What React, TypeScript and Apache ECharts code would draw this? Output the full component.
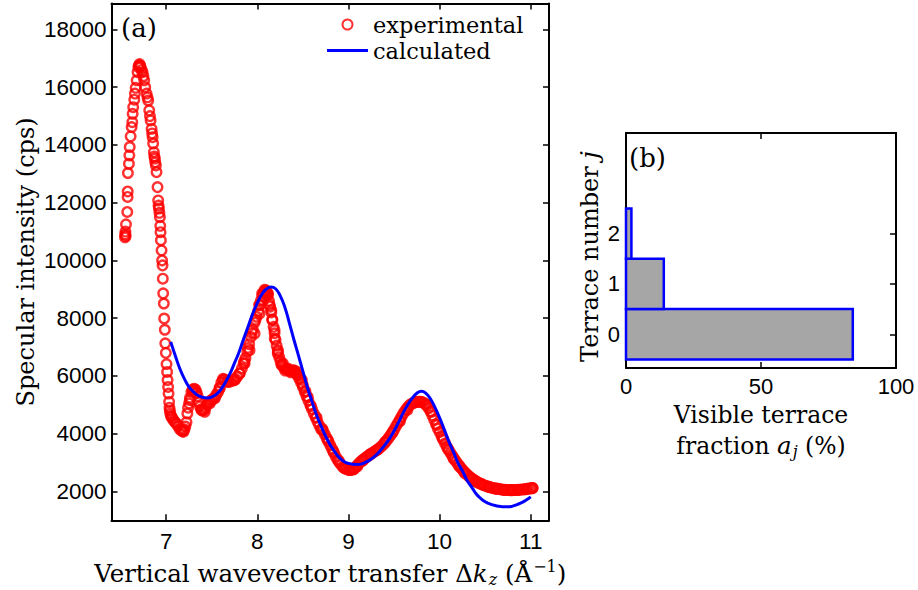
import React, { useEffect, useRef } from "react";
import * as echarts from "echarts";

// ---------- data ----------
const expX = [
  6.548, 6.55, 6.553, 6.556, 6.559, 6.573, 6.577, 6.578, 6.58, 6.591, 6.596, 6.6, 6.61, 6.621, 6.628, 6.632,
  6.638, 6.65, 6.657, 6.665, 6.676, 6.686, 6.695, 6.701, 6.708, 6.715, 6.719, 6.73, 6.741, 6.75, 6.759, 6.77,
  6.785, 6.795, 6.803, 6.814, 6.822, 6.829, 6.84, 6.846, 6.851, 6.857, 6.865, 6.87, 6.876, 6.88, 6.887, 6.894,
  6.905, 6.912, 6.916, 6.92, 6.926, 6.931, 6.935, 6.938, 6.942, 6.949, 6.955, 6.96, 6.963, 6.967, 6.974, 6.978,
  6.985, 6.99, 6.996, 7.004, 7.01, 7.015, 7.021, 7.026, 7.032, 7.036, 7.04, 7.045, 7.052, 7.059, 7.07, 7.085,
  7.1, 7.113, 7.13, 7.15, 7.168, 7.18, 7.19, 7.2, 7.21, 7.223, 7.232, 7.24, 7.251, 7.262, 7.277, 7.29,
  7.305, 7.32, 7.332, 7.345, 7.358, 7.37, 7.385, 7.4, 7.415, 7.43, 7.445, 7.46, 7.478, 7.495, 7.51, 7.532,
  7.55, 7.57, 7.587, 7.605, 7.623, 7.64, 7.66, 7.678, 7.7, 7.72, 7.74, 7.76, 7.78, 7.806, 7.83, 7.85,
  7.87, 7.89, 7.91, 7.93, 7.95, 7.97, 7.99, 8.01, 8.025, 8.04, 8.055, 8.07, 8.085, 8.095, 8.105, 8.116,
  8.128, 8.14, 8.153, 8.165, 8.178, 8.189, 8.2, 8.212, 8.225, 8.24, 8.255, 8.27, 8.285, 8.3, 8.32, 8.34,
  8.36, 8.38, 8.4, 8.42, 8.44, 8.46, 8.48, 8.5, 8.52, 8.54, 8.56, 8.58, 8.6, 8.62, 8.64, 8.66,
  8.68, 8.7, 8.72, 8.74, 8.76, 8.78, 8.8, 8.82, 8.84, 8.86, 8.88, 8.9, 8.92, 8.94, 8.96, 8.98,
  9.0, 9.02, 9.04, 9.06, 9.08, 9.1, 9.12, 9.14, 9.16, 9.18, 9.2, 9.22, 9.24, 9.26, 9.28, 9.3,
  9.32, 9.34, 9.36, 9.38, 9.4, 9.42, 9.44, 9.46, 9.48, 9.5, 9.52, 9.54, 9.56, 9.58, 9.6, 9.62,
  9.64, 9.66, 9.68, 9.7, 9.72, 9.74, 9.76, 9.78, 9.8, 9.82, 9.84, 9.86, 9.88, 9.9, 9.92, 9.94,
  9.96, 9.98, 10.0, 10.02, 10.04, 10.06, 10.08, 10.1, 10.12, 10.14, 10.16, 10.18, 10.2, 10.22, 10.24, 10.26,
  10.28, 10.3, 10.32, 10.34, 10.36, 10.38, 10.4, 10.42, 10.44, 10.46, 10.48, 10.5, 10.52, 10.54, 10.56, 10.58,
  10.6, 10.62, 10.64, 10.66, 10.68, 10.7, 10.72, 10.74, 10.76, 10.78, 10.8, 10.82, 10.84, 10.86, 10.88, 10.9,
  10.92, 10.94, 10.96, 10.98, 11.0, 11.01, 11.02,
  // second reading pass of the dense band
  7.186, 7.259, 7.295, 7.332, 7.387, 7.423, 7.478, 7.532, 7.587, 7.623, 7.678, 7.751, 7.806, 7.86, 7.915, 7.97,
  8.025, 8.061, 8.09, 8.116, 8.153, 8.189, 8.225, 8.28, 8.334, 8.389, 8.444, 8.499, 8.553,
  7.858, 7.898, 7.939, 7.98, 8.02, 8.053, 8.081, 8.11, 8.134, 8.163, 8.191, 8.224, 8.264, 8.305, 8.366, 8.407,
  8.447, 8.488, 8.528, 8.589, 8.65, 8.711, 8.772, 8.833, 8.894, 8.955, 9.016, 9.057, 9.098, 9.159, 9.24, 9.321,
  9.402, 9.484, 9.565, 9.646, 9.728, 9.789, 9.85, 9.911, 9.972, 10.033, 10.093, 10.154, 10.215, 10.276, 10.337, 10.398,
  10.459, 10.54, 10.622, 10.703, 10.785, 10.866, 10.947, 11.02,
];
const expY = [
  10800, 10900, 11000, 10850, 11250, 11680, 12200, 12390, 13030, 13350, 13640, 13930, 14300, 14620, 14790, 15080,
  15310, 15570, 15780, 15980, 16240, 16520, 16700, 16760, 16800, 16740, 16700, 16600, 16520, 16380, 16240, 16000,
  15780, 15650, 15540, 15200, 15000, 14850, 14560, 14400, 14270, 14050, 13750, 13600, 13530, 13400, 13290, 13060,
  12540, 12080, 11900, 11800, 11650, 11500, 11200, 10980, 10700, 10350, 10000, 9830, 9370, 8860, 8510, 7990,
  7600, 7130, 6800, 6410, 6140, 5860, 5620, 5390, 5100, 4900, 4800, 4700, 4620, 4580, 4520, 4450,
  4390, 4350, 4260, 4150, 4120, 4080, 4070, 4150, 4250, 4400, 4700, 4900, 5050, 5250, 5450, 5520,
  5560, 5530, 5450, 5300, 5100, 4950, 4850, 4800, 4820, 4900, 5000, 5060, 5100, 5160, 5200, 5250,
  5350, 5450, 5600, 5780, 5900, 5880, 5820, 5800, 5800, 5830, 5860, 5900, 5980, 6090, 6260, 6430,
  6620, 6850, 7100, 7350, 7600, 7850, 8050, 8250, 8450, 8620, 8780, 8880, 8950, 8960, 8900, 8800,
  8600, 8400, 8200, 7950, 7700, 7480, 7250, 7050, 6850, 6650, 6500, 6400, 6320, 6270, 6230, 6200,
  6180, 6170, 6150, 6100, 6030, 5900, 5760, 5620, 5450, 5300, 5150, 5000, 4850, 4700, 4560, 4420,
  4280, 4150, 4110, 3980, 3850, 3730, 3600, 3470, 3340, 3210, 3100, 3000, 2920, 2850, 2800, 2770,
  2750, 2750, 2760, 2780, 2850, 2920, 2990, 3050, 3100, 3150, 3200, 3240, 3290, 3330, 3370, 3410,
  3450, 3500, 3560, 3620, 3690, 3770, 3850, 3940, 4040, 4140, 4250, 4360, 4470, 4580, 4690, 4790,
  4880, 4950, 5010, 5050, 5080, 5100, 5110, 5110, 5100, 5080, 5040, 4970, 4880, 4770, 4630, 4480,
  4330, 4180, 4060, 3920, 3790, 3660, 3540, 3440, 3330, 3230, 3130, 3040, 2950, 2870, 2790, 2720,
  2650, 2590, 2530, 2480, 2430, 2390, 2350, 2310, 2280, 2250, 2220, 2200, 2180, 2160, 2140, 2120,
  2110, 2100, 2090, 2080, 2070, 2060, 2060, 2050, 2050, 2050, 2050, 2050, 2050, 2060, 2060, 2070,
  2070, 2080, 2090, 2100, 2110, 2110, 2120,
  // second reading pass of the dense band
  4124, 5163, 5509, 5394, 4817, 4758, 5048, 5221, 5567, 5855, 5796, 5855, 6086, 6433, 6893, 7471,
  8163, 8623, 8910, 8855, 8277, 7585, 6893, 6433, 6260, 6201, 6028, 5682, 5277,
  6514, 6969, 7490, 7945, 8465, 8855, 8985, 8855, 8465, 7945, 7295, 6774, 6384, 6189, 6124, 6189,
  6124, 5863, 5473, 4953, 4563, 4172, 3782, 3392, 3067, 2807, 2741, 2767, 2872, 3067, 3288, 3457,
  3717, 4042, 4433, 4823, 5083, 5109, 5018, 4758, 4302, 3847, 3457, 3132, 2872, 2637, 2481, 2351,
  2260, 2156, 2091, 2052, 2039, 2052, 2078, 2117,
];
const calcX = [
  7.05, 7.1, 7.15, 7.2, 7.25, 7.3, 7.35, 7.4, 7.45, 7.5, 7.55, 7.6, 7.65, 7.7, 7.75, 7.8,
  7.85, 7.9, 7.95, 8.0, 8.05, 8.1, 8.15, 8.2, 8.25, 8.3, 8.35, 8.4, 8.45, 8.5, 8.55, 8.6,
  8.65, 8.7, 8.75, 8.8, 8.85, 8.9, 8.95, 9.0, 9.05, 9.1, 9.15, 9.2, 9.25, 9.3, 9.35, 9.4,
  9.45, 9.5, 9.55, 9.6, 9.65, 9.7, 9.75, 9.8, 9.85, 9.9, 9.95, 10.0, 10.05, 10.1, 10.15, 10.2,
  10.25, 10.3, 10.35, 10.4, 10.45, 10.5, 10.55, 10.6, 10.65, 10.7, 10.75, 10.8, 10.85, 10.9, 10.95, 11.0,
];
const calcY = [
  7180, 6700, 6250, 5900, 5620, 5450, 5320, 5260, 5240, 5270, 5360, 5530, 5780, 6080, 6450, 6830,
  7290, 7720, 8160, 8530, 8830, 9010, 9080, 9020, 8780, 8400, 7850, 7270, 6720, 6160, 5600, 5110,
  4640, 4260, 3910, 3610, 3370, 3170, 3040, 2970, 2940, 2935, 2960, 3030, 3120, 3250, 3420, 3610,
  3830, 4090, 4400, 4720, 5000, 5230, 5400, 5470, 5400, 5200, 4900, 4550, 4150, 3740, 3380, 3000,
  2710, 2390, 2160, 1920, 1760, 1640, 1570, 1520, 1485, 1470, 1465, 1490, 1545, 1610, 1700, 1810,
];
const xTicksA = [7, 8, 9, 10, 11];
const yTicksA = [2000, 4000, 6000, 8000, 10000, 12000, 14000, 16000, 18000];
const terraceJ = [0, 1, 2];
const terraceFraction = [84, 14, 2];
const xTicksB = [0, 50, 100];
const yTicksB = [0, 1, 2];

const SERIF = "DejaVu Serif";
const SANS = "Liberation Sans";

function axisCommon(ticks: number[], showLabel: boolean, labelMargin: number, fs: number) {
  return {
    type: "value" as const,
    axisLine: { show: true, onZero: false, lineStyle: { color: "#000", width: 2 } },
    axisTick: { show: true, inside: true, length: 6, customValues: ticks, lineStyle: { color: "#000", width: 1.5 } },
    axisLabel: {
      show: showLabel,
      customValues: ticks,
      formatter: (v: number) => String(v),
      fontFamily: SANS,
      fontSize: fs,
      color: "#000",
      margin: labelMargin,
    },
    splitLine: { show: false },
  };
}

const TF = 24.5;
const richBase = {
  i: { fontFamily: SERIF, fontStyle: "italic", fontSize: TF, color: "#000" },
  n: { fontFamily: SERIF, fontSize: TF, color: "#000" },
  sub: { fontFamily: SERIF, fontStyle: "italic", fontSize: 16, color: "#000", padding: [12, 0, 0, 1] },
  sup: { fontFamily: SERIF, fontSize: 16, color: "#000", padding: [0, 0, 14, 1] },
};

export default function App() {
  const ref = useRef<HTMLDivElement>(null);
  useEffect(() => {
    if (!ref.current) return;
    const chart = echarts.init(ref.current, undefined, { renderer: "svg" });
    const option: any = {
      animation: false,
      backgroundColor: "#fff",
      grid: [
        { left: 111.5, top: 3.5, width: 437.5, height: 516.8, outerBoundsMode: "none" },
        { left: 626, top: 133, width: 270, height: 235, outerBoundsMode: "none" },
      ],
      legend: {
        orient: "vertical",
        left: 327,
        top: 12,
        padding: 0,
        itemWidth: 41,
        itemHeight: 10,
        itemGap: 1,
        selectedMode: false,
        textStyle: { fontFamily: SERIF, fontSize: 22.5, color: "#000", lineHeight: 25 },
        data: [
          {
            name: "experimental",
            icon: "circle",
            itemStyle: { color: "rgba(0,0,0,0)", borderColor: "#ff0000", borderWidth: 2 },
          },
          {
            name: "calculated",
            icon: "path://M0 0H41V3H0Z",
            itemStyle: { color: "#0000ff", borderWidth: 0 },
          },
        ],
      },
      xAxis: [
        {
          ...axisCommon(xTicksA, true, 10, 22.5),
          gridIndex: 0,
          min: 6.4,
          max: 11.2,
          position: "bottom",
          name: "Vertical wavevector transfer Δ{i|k}{sub|z} ({n|Å}{sup|−1})",
          nameLocation: "middle",
          nameGap: 34,
          nameTextStyle: { fontFamily: SERIF, fontSize: TF, color: "#000", rich: richBase },
        },
        { ...axisCommon(xTicksA, false, 10, 22.5), gridIndex: 0, min: 6.4, max: 11.2, position: "top" },
        {
          ...axisCommon(xTicksB, true, 7, 22),
          gridIndex: 1,
          min: 0,
          max: 100,
          position: "bottom",
          name: "Visible terrace\nfraction {i|a}{sub|j} (%)",
          nameLocation: "middle",
          nameGap: 31,
          nameTextStyle: { fontFamily: SERIF, fontSize: 23.5, color: "#000", lineHeight: 31, rich: richBase },
        },
        { ...axisCommon(xTicksB, false, 7, 22), gridIndex: 1, min: 0, max: 100, position: "top" },
      ],
      yAxis: [
        {
          ...axisCommon(yTicksA, true, 5, 22.5),
          gridIndex: 0,
          min: 1000,
          max: 18900,
          position: "left",
          name: "Specular intensity (cps)",
          nameLocation: "middle",
          nameGap: 74,
          nameTextStyle: { fontFamily: SERIF, fontSize: 24, color: "#000" },
        },
        { ...axisCommon(yTicksA, false, 5, 22.5), gridIndex: 0, min: 1000, max: 18900, position: "right" },
        {
          ...axisCommon(yTicksB, true, 6, 22),
          gridIndex: 1,
          min: -0.67,
          max: 4,
          position: "left",
          name: "Terrace number {i|j}",
          nameLocation: "middle",
          nameGap: 24,
          nameTextStyle: { fontFamily: SERIF, fontSize: 24, color: "#000", rich: richBase, padding: [0, 12, 0, 0] },
        },
        { ...axisCommon(yTicksB, false, 6, 22), gridIndex: 1, min: -0.67, max: 4, position: "right" },
      ],
      series: [
        {
          name: "experimental",
          type: "scatter",
          xAxisIndex: 0,
          yAxisIndex: 0,
          symbol: "circle",
          symbolSize: 9.5,
          itemStyle: { color: "rgba(0,0,0,0)", borderColor: "#ff0000", borderWidth: 2.4 },
          data: expX.map((x, i) => [x, expY[i]]),
          z: 2,
        },
        {
          name: "calculated",
          type: "line",
          xAxisIndex: 0,
          yAxisIndex: 0,
          symbol: "none",
          smooth: true,
          lineStyle: { color: "#0000ff", width: 3 },
          itemStyle: { color: "#0000ff" },
          data: calcX.map((x, i) => [x, calcY[i]]),
          z: 3,
        },
        {
          name: "terraces",
          type: "custom",
          xAxisIndex: 2,
          yAxisIndex: 2,
          encode: { x: 0, y: 1 },
          data: terraceFraction.map((v, i) => [v, terraceJ[i]]),
          renderItem: (_params: any, api: any) => {
            const v = api.value(0);
            const j = api.value(1);
            const p0 = api.coord([0, j + 0.5]);
            const p1 = api.coord([v, j - 0.5]);
            return {
              type: "rect",
              shape: { x: p0[0], y: p0[1], width: p1[0] - p0[0], height: p1[1] - p0[1] },
              style: { fill: "#a6a6a6", stroke: "#0000ff", lineWidth: 2.5 },
            };
          },
        },
      ],
      graphic: [
        { type: "text", left: 121, top: 15, style: { text: "(a)", fontFamily: SERIF, fontSize: 26, fill: "#000" } },
        { type: "text", left: 629, top: 145, style: { text: "(b)", fontFamily: SERIF, fontSize: 26, fill: "#000" } },
      ],
    };
    chart.setOption(option);
    return () => chart.dispose();
  }, []);
  return (
    <div
      ref={ref}
      style={{ position: "fixed", left: 0, top: 0, width: 918, height: 590, background: "#fff" }}
    />
  );
}
